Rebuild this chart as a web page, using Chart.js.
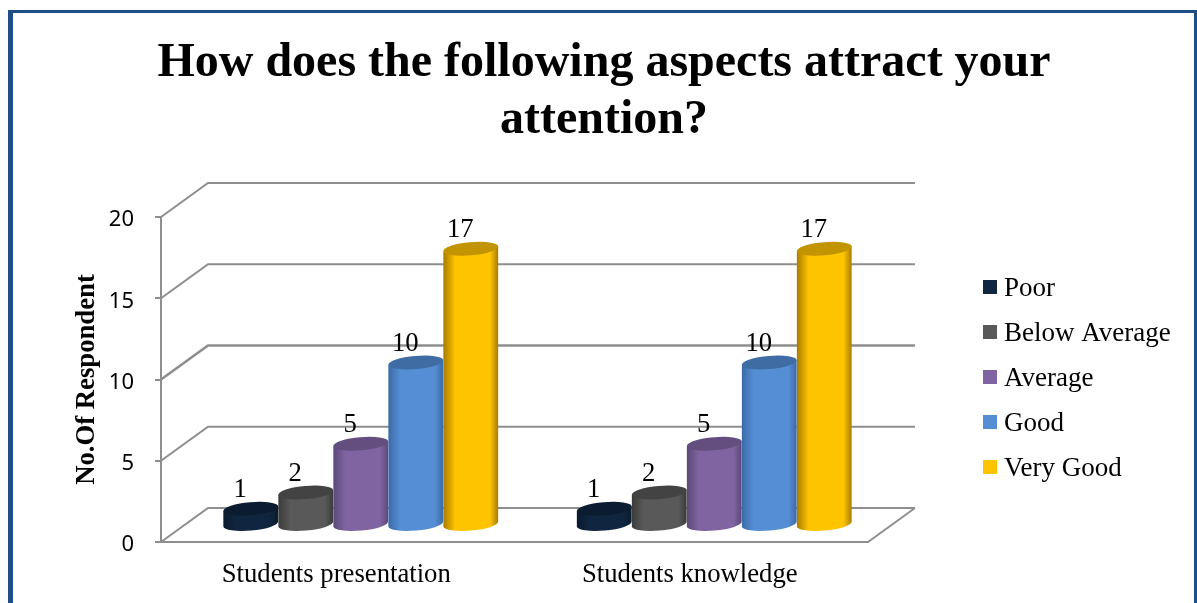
<!DOCTYPE html>
<html>
<head>
<meta charset="utf-8">
<style>
html,body{margin:0;padding:0;background:#fff;overflow:hidden}
#wrap{position:absolute;left:0;top:0;width:1197px;height:603px}
#frame{position:absolute;left:8px;top:10px;width:1181px;height:600px;border-left:5px solid #1F4E87;border-top:3px solid #1F4E87;border-right:3px solid #1F4E87}
canvas{position:absolute;left:0;top:0}
</style>
<script src="https://cdn.jsdelivr.net/npm/chart.js@4"></script>
</head>
<body>
<div id="wrap"><div id="frame"></div><canvas id="c" width="1197" height="603"></canvas></div>
<script>
const categories = ["Students presentation", "Students knowledge"];
const seriesNames = ["Poor", "Below Average", "Average", "Good", "Very Good"];
const poor = [1, 1];
const belowAverage = [2, 2];
const average = [5, 5];
const good = [10, 10];
const veryGood = [17, 17];
const tickValues = [0, 5, 10, 15, 20];
const titleLines = ["How does the following aspects attract your", "attention?"];
const axisTitle = "No.Of Respondent";

const fills = ["#10253F", "#595959", "#8064A2", "#558ED5", "#FFC400"];
const edges = ["#0A1A2E", "#3A3A3A", "#5C4878", "#3A6AA6", "#A67C00"];
const tops  = ["#0C1C30", "#434343", "#644E80", "#3F6CA3", "#C29400"];

const SERIF = '"Liberation Serif", "Times New Roman", serif';
const GRID = "#8E8E8E";
const DX = 47, DY = 34;          // depth of the 3D box
const MX = 23, MY = 17;          // bars stand at mid depth

function swatch(color) {
  const c = document.createElement("canvas");
  c.width = 14; c.height = 17;
  const g = c.getContext("2d");
  g.fillStyle = color; g.fillRect(0, 0, 14, 14);
  return c;
}

function cylinder(ctx, cx, top, base, w, i) {
  const rx = w / 2, ry = 6.6, tilt = -5 * Math.PI / 180;
  const sx = rx * Math.cos(tilt), sy = rx * Math.sin(tilt);
  const grad = ctx.createLinearGradient(cx - rx, 0, cx + rx, 0);
  grad.addColorStop(0, edges[i]);
  grad.addColorStop(0.22, fills[i]);
  grad.addColorStop(0.55, fills[i]);
  grad.addColorStop(0.85, fills[i]);
  grad.addColorStop(1, edges[i]);
  ctx.beginPath();
  ctx.moveTo(cx - sx, top - sy);
  ctx.lineTo(cx + sx, top + sy);
  ctx.lineTo(cx + sx, base + sy);
  ctx.ellipse(cx, base, rx, ry, tilt, 0, Math.PI, false);
  ctx.closePath();
  ctx.fillStyle = grad;
  ctx.fill();
  ctx.beginPath();
  ctx.ellipse(cx, top, rx, ry, tilt, 0, Math.PI * 2);
  ctx.fillStyle = tops[i];
  ctx.fill();
}

const box3d = {
  id: "box3d",
  afterLayout(chart) {
    const l = chart.legend;
    l.left = 971.5; l.right = 1197; l.width = 225.5;
    l.top = 257; l.bottom = 502; l.height = 245;
    const t = chart.titleBlock;
    t.left = 0; t.right = 1208; t.width = 1208;
  },
  beforeDatasetsDraw(chart) {
    const { ctx, chartArea: a, scales: { y } } = chart;
    ctx.save();
    ctx.strokeStyle = GRID;
    ctx.lineWidth = 2;
    tickValues.forEach(v => {
      const py = y.getPixelForValue(v);
      ctx.lineWidth = v === 10 ? 2.6 : 2;
      ctx.beginPath();
      ctx.moveTo(a.left, py);
      ctx.lineTo(a.left + DX, py - DY);
      ctx.lineTo(a.right + DX, py - DY);
      ctx.stroke();
    });
    ctx.lineWidth = 2;
    const p0 = y.getPixelForValue(0);
    ctx.beginPath();
    ctx.moveTo(a.right, p0);
    ctx.lineTo(a.right + DX, p0 - DY);
    ctx.stroke();
    chart.data.datasets.forEach((ds, i) => {
      chart.getDatasetMeta(i).data.forEach(bar => {
        cylinder(ctx, bar.x + MX, bar.y - MY, bar.base - MY, bar.width, i);
      });
    });
    ctx.fillStyle = "#000";
    ctx.font = "26.7px " + SERIF;
    ctx.textAlign = "center";
    ctx.textBaseline = "middle";
    chart.data.datasets.forEach((ds, i) => {
      chart.getDatasetMeta(i).data.forEach((bar, j) => {
        ctx.fillText(String(ds.data[j]), bar.x + MX - 10.5, bar.y - MY - 19);
      });
    });
    ctx.restore();
    return false;
  }
};

const seriesValues = [poor, belowAverage, average, good, veryGood];

new Chart(document.getElementById("c"), {
  type: "bar",
  data: {
    labels: categories,
    datasets: seriesNames.map((n, i) => ({
      label: n,
      data: seriesValues[i],
      backgroundColor: fills[i],
      categoryPercentage: 0.778,
      barPercentage: 1
    }))
  },
  plugins: [box3d],
  options: {
    responsive: false,
    animation: false,
    devicePixelRatio: 1,
    layout: { padding: { left: 11, right: 129, top: 0, bottom: 0 } },
    plugins: {
      tooltip: { enabled: false },
      title: {
        display: true,
        text: titleLines,
        color: "#000",
        font: { family: SERIF, size: 48, weight: "bold", lineHeight: 1.1875 },
        padding: { top: 35, bottom: 68 }
      },
      legend: {
        display: true,
        position: "right",
        align: "start",
        maxWidth: 200,
        labels: {
          color: "#000",
          font: { family: SERIF, size: 27 },
          padding: 18,
          boxWidth: 1,
          boxHeight: 14,
          usePointStyle: true,
          generateLabels(chart) {
            return Chart.defaults.plugins.legend.labels.generateLabels(chart).map((it, i) => {
              it.pointStyle = swatch(fills[i]);
              return it;
            });
          }
        }
      }
    },
    scales: {
      x: {
        grid: { drawOnChartArea: false, drawTicks: false },
        border: { display: true, color: GRID, width: 2 },
        ticks: { color: "#000", font: { family: SERIF, size: 26.7 }, padding: 17, maxRotation: 0, labelOffset: -1.5 },
        afterFit(s) { s.height = 61; }
      },
      y: {
        min: 0,
        max: 20,
        afterBuildTicks(s) { s.ticks = tickValues.map(v => ({ value: v })); },
        grid: { drawOnChartArea: false, color: GRID, lineWidth: 2, tickLength: 6 },
        border: { display: true, color: GRID, width: 2 },
        ticks: { color: "#000", font: { family: '"Noto Sans"', size: 22 }, padding: 21, labelOffset: 3 },
        title: {
          display: true,
          text: axisTitle,
          color: "#000",
          font: { family: SERIF, size: 26.7, weight: "bold" },
          padding: { top: 60, bottom: 0 }
        },
        afterFit(s) { s.width = 150; }
      }
    }
  }
});
</script>
</body>
</html>
